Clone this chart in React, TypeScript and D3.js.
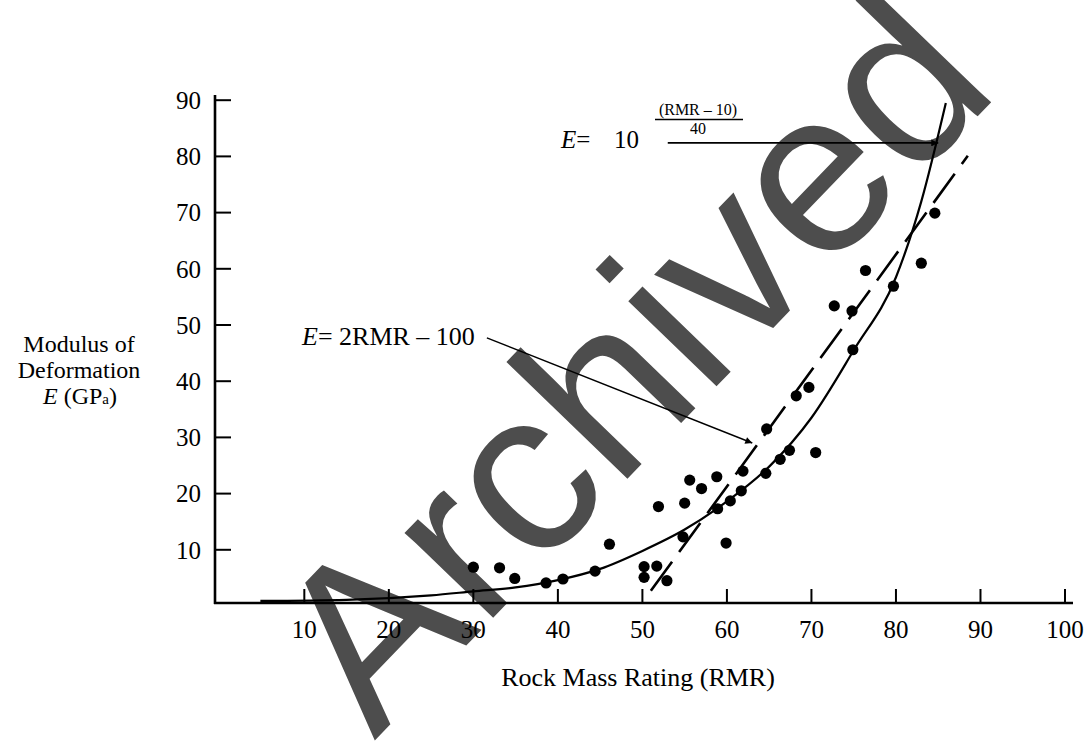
import React from "react";
import * as d3 from "d3";

// ---- Data ----
const rmrTicks = [10, 20, 30, 40, 50, 60, 70, 80, 90, 100];
const modulusTicks = [10, 20, 30, 40, 50, 60, 70, 80, 90];

const pointRmr = [
  30.0, 33.1, 34.9, 38.6, 40.6, 44.4, 46.1, 50.2, 51.7, 50.2, 52.9, 54.8,
  51.9, 55.0, 55.6, 57.0, 58.8, 58.9, 60.4, 59.9, 61.7, 61.9, 64.6, 64.7,
  66.3, 67.4, 68.2, 69.7, 70.5, 72.7, 74.8, 74.9, 76.4, 79.7, 83.0, 84.6,
];
const pointModulus = [
  6.9, 6.8, 4.9, 4.1, 4.8, 6.2, 11.0, 7.0, 7.1, 5.1, 4.5, 12.3,
  17.7, 18.3, 22.4, 20.9, 23.0, 17.3, 18.7, 11.2, 20.5, 24.0, 23.6, 31.5,
  26.1, 27.7, 37.4, 38.9, 27.3, 53.4, 52.5, 45.6, 59.7, 56.9, 61.0, 69.9,
];

// solid curve E = 10^((RMR-10)/40), as drawn in the picture
const expCurveRmr = [4.8, 15, 25, 30, 35, 40, 45, 50, 55, 60, 65, 70, 75, 80, 83, 85.9];
const expCurveModulus = [0.9, 1.1, 1.9, 2.6, 3.3, 4.6, 6.6, 9.8, 13.6, 18.6, 24.8, 33.5, 45.5, 58.5, 72, 89.5];

// dashed line E = 2RMR - 100, as drawn
const linearRmr = [51.0, 88.5];
const linearModulus = [2.7, 80.1];

const FONT = "'Liberation Serif', 'Times New Roman', serif";

export default function App() {
  const W = 1089;
  const H = 753;
  const x = d3.scaleLinear().domain([0, 100]).range([219.8, 1065]);
  const y = d3.scaleLinear().domain([0, 90]).range([606, 100.2]);

  const axisX0 = 215;
  const axisY0 = 603;

  const curvePts: [number, number][] = expCurveRmr.map((r, i) => [r, expCurveModulus[i]]);
  const curvePath = d3
    .line<[number, number]>()
    .x((d) => x(d[0]))
    .y((d) => y(d[1]))
    .curve(d3.curveMonotoneX)(curvePts);

  const linePts: [number, number][] = linearRmr.map((r, i) => [r, linearModulus[i]]);
  const linePath = d3
    .line<[number, number]>()
    .x((d) => x(d[0]))
    .y((d) => y(d[1]))(linePts);

  // annotation arrows (data coords)
  const arrow1 = { x1: x(53.0), y1: y(82.4), x2: x(85.0), y2: y(82.4) };
  const arrow2 = { x1: x(31.6), y1: y(47.7), x2: x(63.0), y2: y(29.0) };

  return (
    <svg
      width={W}
      height={H}
      viewBox={`0 0 ${W} ${H}`}
      style={{ position: "absolute", left: 0, top: 0, background: "#fff" }}
    >
      <defs>
        <marker
          id="arr"
          viewBox="0 0 10 10"
          refX="10"
          refY="5"
          markerWidth="12"
          markerHeight="7"
          markerUnits="userSpaceOnUse"
          orient="auto"
        >
          <path d="M0,0 L10,5 L0,10 z" fill="#000" />
        </marker>
      </defs>
      <rect x={0} y={0} width={W} height={H} fill="#fff" />

      {/* watermark */}
      <text
        transform="translate(688,416) rotate(-46)"
        textAnchor="middle"
        fontFamily="'Liberation Sans', Arial, sans-serif"
        fontSize={232}
        fill="#4d4d4d"
      >
        Archived
      </text>

      {/* axes */}
      <line x1={axisX0} y1={95} x2={axisX0} y2={axisY0 + 1} stroke="#000" strokeWidth={2.6} />
      <line x1={axisX0 - 1} y1={axisY0} x2={1073} y2={axisY0} stroke="#000" strokeWidth={2.6} />

      {modulusTicks.map((t) => (
        <g key={"yt" + t}>
          <line x1={axisX0} x2={axisX0 + 16} y1={y(t)} y2={y(t)} stroke="#000" strokeWidth={2} />
          <text
            x={201}
            y={y(t)}
            dy="0.35em"
            textAnchor="end"
            fontFamily={FONT}
            fontSize={25}
            fill="#000"
          >
            {t}
          </text>
        </g>
      ))}

      {rmrTicks.map((t) => (
        <g key={"xt" + t}>
          <line x1={x(t)} x2={x(t)} y1={axisY0} y2={axisY0 - 14} stroke="#000" strokeWidth={2} />
          <text x={x(t)} y={638} textAnchor="middle" fontFamily={FONT} fontSize={25} fill="#000">
            {t}
          </text>
        </g>
      ))}

      {/* axis titles */}
      <text x={638} y={686} textAnchor="middle" fontFamily={FONT} fontSize={26} fill="#000">
        Rock Mass Rating (RMR)
      </text>
      <g fontFamily={FONT} fontSize={24} fill="#000" textAnchor="middle">
        <text x={79} y={352}>Modulus of</text>
        <text x={79} y={378}>Deformation</text>
        <text x={80} y={404}>
          <tspan fontStyle="italic">E</tspan>
          <tspan> (GP</tspan>
          <tspan fontSize={15}>a</tspan>
          <tspan>)</tspan>
        </text>
      </g>

      {/* curves */}
      <path d={curvePath || ""} fill="none" stroke="#000" strokeWidth={2.2} />
      <path
        d={linePath || ""}
        fill="none"
        stroke="#000"
        strokeWidth={2.6}
        strokeDasharray="36 12"
      />

      {/* points */}
      {pointRmr.map((r, i) => (
        <circle key={"p" + i} cx={x(r)} cy={y(pointModulus[i])} r={5.6} fill="#000" />
      ))}

      {/* annotations */}
      <line
        x1={arrow1.x1}
        y1={arrow1.y1}
        x2={arrow1.x2}
        y2={arrow1.y2}
        stroke="#000"
        strokeWidth={1.6}
        markerEnd="url(#arr)"
      />
      <line
        x1={arrow2.x1}
        y1={arrow2.y1}
        x2={arrow2.x2}
        y2={arrow2.y2}
        stroke="#000"
        strokeWidth={1.4}
        markerEnd="url(#arr)"
      />

      <g fontFamily={FONT} fill="#000">
        <text x={561} y={148} fontSize={25}>
          <tspan fontStyle="italic">E</tspan>
          <tspan>=</tspan>
        </text>
        <text x={614} y={148} fontSize={25}>10</text>
        <text x={698} y={115} fontSize={16} textAnchor="middle">(RMR – 10)</text>
        <line x1={655} x2={743} y1={119.5} y2={119.5} stroke="#000" strokeWidth={1.4} />
        <text x={698} y={134} fontSize={16} textAnchor="middle">40</text>

        <text x={302} y={345} fontSize={26}>
          <tspan fontStyle="italic">E</tspan>
          <tspan>= 2RMR – 100</tspan>
        </text>
      </g>
    </svg>
  );
}
